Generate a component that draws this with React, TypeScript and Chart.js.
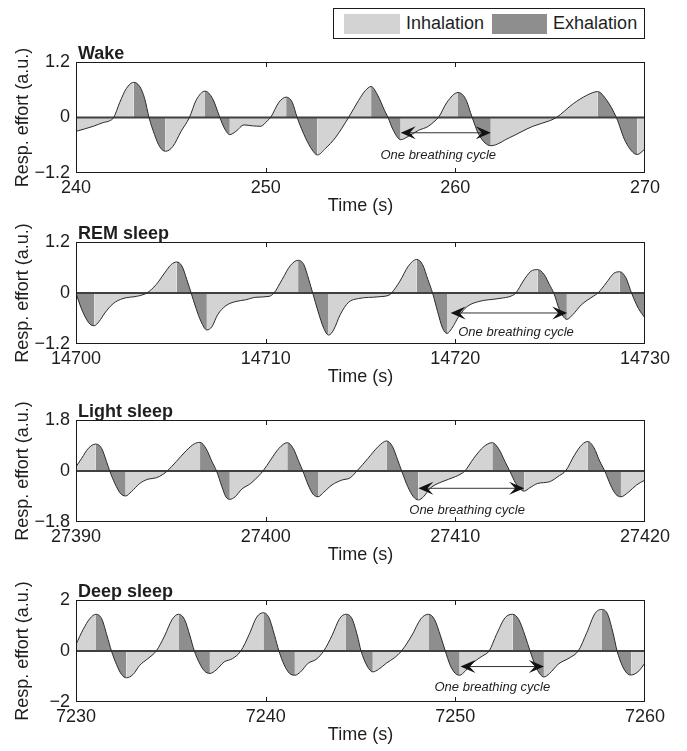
import React, { useEffect, useRef } from 'react';
import { Chart, registerables } from 'chart.js';

Chart.register(...registerables);

const FONT = 'Arial, "Liberation Sans", Helvetica, sans-serif';
const INHALE_COLOR = '#d3d3d3';
const EXHALE_COLOR = '#8e8e8e';
const LINE_COLOR = '#2a2a2a';
const TEXT_COLOR = '#1e1e1e';

// ---------------- Wake ----------------
const wakeTime = [240.0, 240.91, 241.43, 241.78, 241.99, 242.31, 242.66, 243.04, 243.36, 243.62, 243.85, 244.14, 244.41, 244.72, 245.1, 245.54, 245.98, 246.33, 246.8, 247.2, 247.55, 247.81, 248.11, 248.43, 248.86, 249.3, 249.74, 250.09, 250.26, 250.7, 251.08, 251.4, 251.66, 252.1, 252.45, 252.73, 253.15, 253.67, 254.37, 254.9, 255.25, 255.56, 255.91, 256.27, 256.45, 256.71, 257.12, 257.51, 258.05, 258.58, 258.93, 259.11, 259.56, 260.14, 260.53, 260.89, 261.24, 261.87, 262.84, 264.09, 264.97, 265.33, 266.22, 266.93, 267.5, 267.99, 268.49, 268.97, 269.59, 270.0];
const wakeEffort = [-0.30, -0.19, -0.11, -0.07, 0.00, 0.33, 0.63, 0.76, 0.67, 0.41, 0.00, -0.37, -0.63, -0.73, -0.63, -0.30, 0.00, 0.37, 0.57, 0.41, 0.04, -0.22, -0.37, -0.30, -0.16, -0.18, -0.19, -0.07, 0.00, 0.33, 0.44, 0.33, 0.00, -0.44, -0.70, -0.81, -0.67, -0.44, 0.00, 0.37, 0.58, 0.67, 0.48, 0.15, 0.00, -0.26, -0.48, -0.41, -0.28, -0.19, -0.07, 0.00, 0.33, 0.54, 0.41, 0.00, -0.37, -0.61, -0.44, -0.19, -0.07, 0.00, 0.30, 0.48, 0.56, 0.37, 0.00, -0.52, -0.80, -0.68];
const wakeInhaleOnsets = [244.72, 248.11, 252.73, 257.12, 261.87, 269.59];
const wakeExhaleOnsets = [243.04, 246.8, 251.08, 255.56, 260.14, 267.5];
const wakeXTicks = [240, 250, 260, 270];
const wakeYTicks = [-1.2, 0, 1.2];
const wakeYTickLabels = ['\u22121.2', '0', '1.2'];
const wakeCycle = [257.12, 261.87, -0.33];
const wakeCycleLabel = [259.1, -0.82];

// ---------------- REM sleep ----------------
const remTime = [14700.0, 14700.21, 14700.47, 14700.73, 14700.96, 14701.22, 14701.52, 14701.96, 14702.48, 14703.18, 14703.53, 14703.74, 14704.23, 14704.67, 14705.02, 14705.31, 14705.59, 14705.84, 14706.07, 14706.33, 14706.59, 14706.9, 14707.17, 14707.47, 14707.9, 14708.43, 14708.95, 14709.48, 14710.17, 14710.44, 14710.87, 14711.31, 14711.71, 14712.01, 14712.27, 14712.48, 14712.76, 14713.06, 14713.32, 14713.58, 14713.93, 14714.37, 14714.9, 14715.93, 14716.55, 14716.64, 14717.08, 14717.52, 14717.96, 14718.27, 14718.55, 14718.8, 14719.06, 14719.33, 14719.56, 14719.82, 14720.18, 14720.62, 14721.24, 14722.3, 14723.01, 14723.19, 14723.58, 14723.98, 14724.34, 14724.69, 14724.96, 14725.19, 14725.49, 14725.88, 14726.19, 14726.64, 14727.26, 14727.52, 14727.96, 14728.35, 14728.67, 14728.99, 14729.29, 14729.65, 14730.0];
const remEffort = [0.00, -0.28, -0.55, -0.73, -0.77, -0.67, -0.47, -0.25, -0.13, -0.08, -0.04, 0.00, 0.20, 0.47, 0.67, 0.73, 0.63, 0.32, 0.00, -0.36, -0.67, -0.87, -0.79, -0.51, -0.30, -0.20, -0.16, -0.10, -0.08, 0.00, 0.32, 0.65, 0.77, 0.67, 0.32, 0.00, -0.43, -0.83, -0.99, -0.87, -0.51, -0.22, -0.13, -0.09, -0.04, 0.00, 0.28, 0.63, 0.79, 0.67, 0.32, 0.00, -0.43, -0.83, -0.95, -0.83, -0.55, -0.32, -0.20, -0.13, -0.06, 0.00, 0.28, 0.51, 0.55, 0.43, 0.20, 0.00, -0.39, -0.62, -0.51, -0.28, -0.08, 0.00, 0.24, 0.46, 0.50, 0.36, 0.00, -0.36, -0.59];
const remInhaleOnsets = [14700.96, 14706.9, 14713.32, 14719.56, 14725.88];
const remExhaleOnsets = [14705.31, 14711.71, 14717.96, 14724.34, 14728.67];
const remXTicks = [14700, 14710, 14720, 14730];
const remYTicks = [-1.2, 0, 1.2];
const remYTickLabels = ['\u22121.2', '0', '1.2'];
const remCycle = [14719.75, 14725.9, -0.47];
const remCycleLabel = [14723.2, -0.92];

// ---------------- Light sleep ----------------
const lightTime = [27390.0, 27390.3, 27390.65, 27391.03, 27391.35, 27391.61, 27391.78, 27392.05, 27392.34, 27392.62, 27392.92, 27393.36, 27393.79, 27394.23, 27394.58, 27394.81, 27395.28, 27395.8, 27396.24, 27396.54, 27396.85, 27397.17, 27397.41, 27397.69, 27397.9, 27398.11, 27398.39, 27398.74, 27399.21, 27399.65, 27399.86, 27400.26, 27400.7, 27401.14, 27401.45, 27401.75, 27401.96, 27402.24, 27402.5, 27402.76, 27403.06, 27403.5, 27404.02, 27404.46, 27404.81, 27405.4, 27405.93, 27406.37, 27406.69, 27406.96, 27407.17, 27407.49, 27407.79, 27408.05, 27408.32, 27408.67, 27409.29, 27410.0, 27410.5, 27410.97, 27411.5, 27411.95, 27412.27, 27412.62, 27412.87, 27413.19, 27413.63, 27413.93, 27414.34, 27414.96, 27415.49, 27415.81, 27416.28, 27416.69, 27416.99, 27417.31, 27417.61, 27417.88, 27418.18, 27418.46, 27418.73, 27419.12, 27419.56, 27420.0];
const lightEffort = [0.15, 0.45, 0.80, 0.95, 0.80, 0.33, 0.00, -0.44, -0.79, -0.88, -0.73, -0.44, -0.29, -0.24, -0.12, 0.00, 0.33, 0.71, 0.96, 1.01, 0.80, 0.33, 0.00, -0.55, -0.91, -1.00, -0.91, -0.64, -0.44, -0.16, 0.00, 0.39, 0.80, 1.00, 0.80, 0.33, 0.00, -0.49, -0.82, -0.91, -0.75, -0.49, -0.32, -0.24, 0.00, 0.45, 0.86, 1.06, 0.86, 0.39, 0.00, -0.55, -0.91, -1.02, -0.91, -0.61, -0.38, -0.20, 0.00, 0.45, 0.86, 1.00, 0.80, 0.33, 0.00, -0.44, -0.71, -0.59, -0.44, -0.38, -0.16, 0.00, 0.56, 0.94, 1.04, 0.82, 0.35, 0.00, -0.49, -0.82, -0.91, -0.75, -0.49, -0.32];
const lightInhaleOnsets = [27392.62, 27398.11, 27402.76, 27408.05, 27413.63, 27418.73];
const lightExhaleOnsets = [27391.03, 27396.54, 27401.14, 27406.37, 27411.95, 27416.99];
const lightXTicks = [27390, 27400, 27410, 27420];
const lightYTicks = [-1.8, 0, 1.8];
const lightYTickLabels = ['\u22121.8', '0', '1.8'];
const lightCycle = [27408.05, 27413.63, -0.61];
const lightCycleLabel = [27410.62, -1.38];

// ---------------- Deep sleep ----------------
const deepTime = [7230.0, 7230.38, 7230.73, 7231.05, 7231.35, 7231.64, 7231.87, 7232.13, 7232.4, 7232.66, 7233.01, 7233.36, 7233.79, 7234.23, 7234.67, 7235.07, 7235.4, 7235.72, 7236.01, 7236.24, 7236.5, 7236.77, 7237.06, 7237.38, 7237.81, 7238.25, 7238.69, 7239.13, 7239.53, 7239.88, 7240.17, 7240.47, 7240.7, 7240.96, 7241.26, 7241.54, 7241.84, 7242.24, 7242.66, 7243.06, 7243.5, 7243.9, 7244.23, 7244.55, 7244.84, 7245.03, 7245.35, 7245.65, 7245.95, 7246.36, 7246.8, 7247.16, 7247.69, 7248.19, 7248.58, 7248.9, 7249.22, 7249.47, 7249.73, 7250.0, 7250.23, 7250.53, 7250.98, 7251.42, 7251.78, 7252.17, 7252.63, 7253.02, 7253.34, 7253.68, 7253.94, 7254.23, 7254.48, 7254.67, 7254.97, 7255.42, 7256.04, 7256.48, 7256.93, 7257.37, 7257.73, 7258.03, 7258.31, 7258.53, 7258.79, 7259.06, 7259.27, 7259.68, 7260.0];
const deepEffort = [0.26, 0.85, 1.27, 1.44, 1.27, 0.59, 0.00, -0.52, -0.92, -1.05, -0.92, -0.56, -0.30, 0.00, 0.59, 1.24, 1.44, 1.24, 0.59, 0.00, -0.46, -0.78, -0.88, -0.75, -0.43, -0.30, 0.00, 0.65, 1.33, 1.50, 1.31, 0.61, 0.00, -0.52, -0.88, -0.95, -0.82, -0.48, -0.33, 0.00, 0.61, 1.27, 1.44, 1.27, 0.59, 0.00, -0.59, -0.82, -0.72, -0.48, -0.26, 0.00, 0.59, 1.27, 1.44, 1.24, 0.59, 0.00, -0.56, -0.88, -0.95, -0.78, -0.43, -0.20, 0.00, 0.65, 1.31, 1.44, 1.24, 0.59, 0.00, -0.59, -0.92, -1.02, -0.88, -0.52, -0.26, 0.00, 0.72, 1.48, 1.63, 1.44, 0.72, 0.00, -0.56, -0.88, -0.94, -0.78, -0.46];
const deepInhaleOnsets = [7232.66, 7237.06, 7241.54, 7245.65, 7250.23, 7254.67, 7259.27];
const deepExhaleOnsets = [7231.05, 7235.4, 7239.88, 7244.23, 7248.58, 7253.02, 7257.73];
const deepXTicks = [7230, 7240, 7250, 7260];
const deepYTicks = [-2, 0, 2];
const deepYTickLabels = ['\u22122', '0', '2'];
const deepCycle = [7250.27, 7254.67, -0.61];
const deepCycleLabel = [7251.95, -1.44];

const legendLabels = ['Inhalation', 'Exhalation'];
const panelTitles = ['Wake', 'REM sleep', 'Light sleep', 'Deep sleep'];
const xAxisTitle = 'Time (s)';
const yAxisTitle = 'Resp. effort (a.u.)';
const cycleText = 'One breathing cycle';

type PanelDef = {
  title: string;
  time: number[];
  effort: number[];
  inhale: number[];
  exhale: number[];
  xTicks: number[];
  yTicks: number[];
  yLabels: string[];
  cycle: number[];
  cycleLabel: number[];
  plotTop: number;
  plotBottom: number;
};

const panels: PanelDef[] = [
  { title: panelTitles[0], time: wakeTime, effort: wakeEffort, inhale: wakeInhaleOnsets, exhale: wakeExhaleOnsets, xTicks: wakeXTicks, yTicks: wakeYTicks, yLabels: wakeYTickLabels, cycle: wakeCycle, cycleLabel: wakeCycleLabel, plotTop: 62, plotBottom: 173 },
  { title: panelTitles[1], time: remTime, effort: remEffort, inhale: remInhaleOnsets, exhale: remExhaleOnsets, xTicks: remXTicks, yTicks: remYTicks, yLabels: remYTickLabels, cycle: remCycle, cycleLabel: remCycleLabel, plotTop: 242, plotBottom: 344 },
  { title: panelTitles[2], time: lightTime, effort: lightEffort, inhale: lightInhaleOnsets, exhale: lightExhaleOnsets, xTicks: lightXTicks, yTicks: lightYTicks, yLabels: lightYTickLabels, cycle: lightCycle, cycleLabel: lightCycleLabel, plotTop: 420, plotBottom: 522 },
  { title: panelTitles[3], time: deepTime, effort: deepEffort, inhale: deepInhaleOnsets, exhale: deepExhaleOnsets, xTicks: deepXTicks, yTicks: deepYTicks, yLabels: deepYTickLabels, cycle: deepCycle, cycleLabel: deepCycleLabel, plotTop: 600, plotBottom: 702 },
];

const PAD_TOP = 30;
const X_AXIS_H = 44;
const PAD_BOTTOM = 4;
const PLOT_LEFT = 76;
const PLOT_RIGHT = 645;
const W = 687;

function phaseAt(t: number, inhale: number[], exhale: number[]): 'in' | 'ex' {
  let last = -Infinity;
  let type: 'in' | 'ex' | null = null;
  for (const s of inhale) if (s <= t + 1e-9 && s > last) { last = s; type = 'in'; }
  for (const s of exhale) if (s <= t + 1e-9 && s > last) { last = s; type = 'ex'; }
  if (type === null) {
    return Math.min(...inhale) < Math.min(...exhale) ? 'ex' : 'in';
  }
  return type;
}

function drawHead(ctx: CanvasRenderingContext2D, tipX: number, y: number, dir: number) {
  const L = 15, Wd = 6.5;
  ctx.beginPath();
  ctx.moveTo(tipX, y);
  ctx.lineTo(tipX - dir * L, y - Wd);
  ctx.lineTo(tipX - dir * L * 0.6, y);
  ctx.lineTo(tipX - dir * L, y + Wd);
  ctx.closePath();
  ctx.fill();
}

const decorPlugin = {
  id: 'panelDecor',
  beforeDatasetsDraw(chart: any) {
    const { ctx, chartArea } = chart;
    const y0 = chart.scales.y.getPixelForValue(0);
    ctx.save();
    ctx.strokeStyle = '#404040';
    ctx.lineWidth = 2;
    ctx.beginPath();
    ctx.moveTo(chartArea.left, y0);
    ctx.lineTo(chartArea.right, y0);
    ctx.stroke();
    ctx.restore();
  },
  afterDatasetsDraw(chart: any, _args: any, opts: any) {
    const { ctx, chartArea } = chart;
    const xs = chart.scales.x;
    const ys = chart.scales.y;
    ctx.save();
    // frame
    ctx.strokeStyle = '#1a1a1a';
    ctx.lineWidth = 1;
    ctx.strokeRect(chartArea.left + 0.5, chartArea.top + 0.5, chartArea.right - chartArea.left - 1, chartArea.bottom - chartArea.top - 1);
    // inside tick marks
    ctx.beginPath();
    for (const t of xs.ticks) {
      if (t.value <= xs.min || t.value >= xs.max) continue;
      const px = Math.round(xs.getPixelForValue(t.value)) + 0.5;
      ctx.moveTo(px, chartArea.bottom);
      ctx.lineTo(px, chartArea.bottom - 5);
      ctx.moveTo(px, chartArea.top);
      ctx.lineTo(px, chartArea.top + 5);
    }
    ctx.stroke();
    // title
    ctx.fillStyle = TEXT_COLOR;
    ctx.font = `bold 18px ${FONT}`;
    ctx.textAlign = 'left';
    ctx.textBaseline = 'alphabetic';
    ctx.fillText(opts.title, chartArea.left + 2, chartArea.top - 3);
    // breathing cycle arrow
    const c = opts.cycle;
    const x1 = xs.getPixelForValue(c[0]);
    const x2 = xs.getPixelForValue(c[1]);
    const ay = ys.getPixelForValue(c[2]);
    ctx.strokeStyle = '#333';
    ctx.lineWidth = 1;
    ctx.beginPath();
    ctx.moveTo(x1 + 6, ay);
    ctx.lineTo(x2 - 6, ay);
    ctx.stroke();
    ctx.fillStyle = '#111';
    drawHead(ctx, x1, ay, -1);
    drawHead(ctx, x2, ay, 1);
    // label
    ctx.fillStyle = TEXT_COLOR;
    ctx.font = `italic 13px ${FONT}`;
    ctx.textAlign = 'center';
    ctx.textBaseline = 'middle';
    ctx.fillText(opts.label, xs.getPixelForValue(opts.labelPos[0]), ys.getPixelForValue(opts.labelPos[1]));
    ctx.restore();
  },
};

function Panel({ def }: { def: PanelDef }) {
  const ref = useRef<HTMLCanvasElement | null>(null);
  const plotH = def.plotBottom - def.plotTop;
  const H = plotH + PAD_TOP + X_AXIS_H + PAD_BOTTOM;
  const canvasTop = def.plotTop - PAD_TOP;

  useEffect(() => {
    if (!ref.current) return;
    const xMin = def.xTicks[0];
    const xMax = def.xTicks[def.xTicks.length - 1];
    const yMin = def.yTicks[0];
    const yMax = def.yTicks[def.yTicks.length - 1];
    const chart = new Chart(ref.current, {
      type: 'line',
      data: {
        datasets: [
          {
            data: def.time.map((t, i) => ({ x: t, y: def.effort[i] })),
            borderColor: LINE_COLOR,
            borderWidth: 1,
            pointRadius: 0,
            cubicInterpolationMode: 'monotone',
            fill: 'origin',
            backgroundColor: INHALE_COLOR,
            segment: {
              backgroundColor: (sc: any) =>
                phaseAt((sc.p0.parsed.x + sc.p1.parsed.x) / 2, def.inhale, def.exhale) === 'in' ? INHALE_COLOR : EXHALE_COLOR,
            },
          } as any,
        ],
      },
      options: {
        animation: false,
        responsive: false,
        devicePixelRatio: 1,
        layout: { padding: { left: 0, right: W - PLOT_RIGHT, top: PAD_TOP, bottom: PAD_BOTTOM } },
        scales: {
          x: {
            type: 'linear',
            min: xMin,
            max: xMax,
            afterBuildTicks: (s: any) => { s.ticks = def.xTicks.map((v) => ({ value: v })); },
            afterFit: (s: any) => { s.height = X_AXIS_H; },
            grid: { display: false, drawTicks: false },
            border: { display: false },
            ticks: {
              font: { size: 18, family: FONT },
              color: TEXT_COLOR,
              padding: 4,
              maxRotation: 0,
              autoSkip: false,
              callback: (v: any) => String(v),
            },
            title: { display: true, text: xAxisTitle, font: { size: 18, family: FONT }, color: TEXT_COLOR, padding: 0 },
          },
          y: {
            min: yMin,
            max: yMax,
            afterBuildTicks: (s: any) => { s.ticks = def.yTicks.map((v) => ({ value: v })); },
            afterFit: (s: any) => { s.width = PLOT_LEFT; },
            grid: { display: false, drawTicks: false },
            border: { display: false },
            ticks: {
              font: { size: 18, family: FONT },
              color: TEXT_COLOR,
              padding: 6,
              autoSkip: false,
              callback: (_v: any, i: number) => def.yLabels[i],
            },
            title: { display: true, text: yAxisTitle, font: { size: 18, family: FONT }, color: TEXT_COLOR, padding: { top: 12, bottom: 0 } },
          },
        },
        plugins: {
          legend: { display: false },
          tooltip: { enabled: false },
          filler: { drawTime: 'beforeDatasetsDraw', propagate: false },
          panelDecor: { title: def.title, cycle: def.cycle, labelPos: def.cycleLabel, label: cycleText },
        } as any,
      },
      plugins: [decorPlugin],
    });
    return () => chart.destroy();
  }, []);

  return (
    <canvas
      ref={ref}
      width={W}
      height={H}
      style={{ position: 'absolute', left: 0, top: canvasTop, width: W, height: H }}
    />
  );
}

export default function App() {
  return (
    <div style={{ position: 'absolute', left: 0, top: 0, width: W, height: 751, background: '#fff', overflow: 'hidden' }}>
      {panels.map((p, i) => (
        <Panel key={i} def={p} />
      ))}
      <div
        style={{
          position: 'absolute',
          left: 333,
          top: 8,
          width: 312,
          height: 31,
          boxSizing: 'border-box',
          border: '1px solid #1a1a1a',
          background: '#fff',
          display: 'flex',
          alignItems: 'center',
          fontFamily: FONT,
          fontSize: 18,
          color: TEXT_COLOR,
          whiteSpace: 'nowrap',
        }}
      >
        <span style={{ display: 'inline-block', width: 56, height: 20, background: INHALE_COLOR, marginLeft: 10 }} />
        <span style={{ marginLeft: 6 }}>{legendLabels[0]}</span>
        <span style={{ display: 'inline-block', width: 55, height: 20, background: EXHALE_COLOR, marginLeft: 8 }} />
        <span style={{ marginLeft: 6 }}>{legendLabels[1]}</span>
      </div>
    </div>
  );
}
